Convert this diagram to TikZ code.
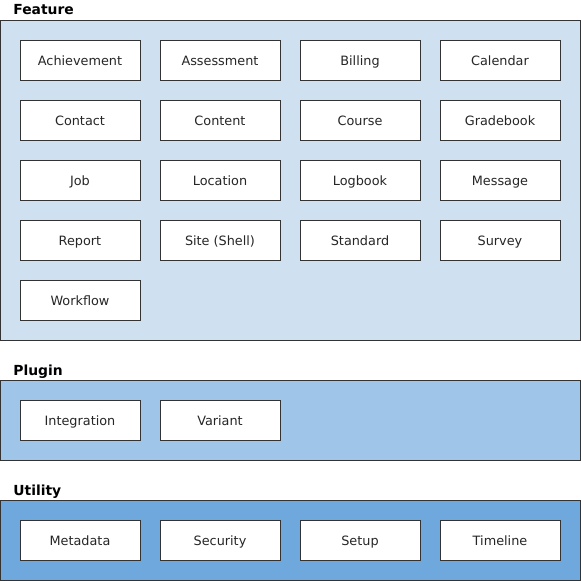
\documentclass[tikz,border=0pt]{standalone}
\usepackage{fontspec}
\setmainfont{DejaVu Sans}
\usepackage{xcolor}
\usetikzlibrary{positioning}

\definecolor{featurebg}{HTML}{CFE0F1}
\definecolor{pluginbg}{HTML}{9FC5E8}
\definecolor{utilitybg}{HTML}{6FA8DC}
\definecolor{edgegray}{HTML}{333333}

\begin{document}
\begin{tikzpicture}[
    x=0.02cm, y=-0.02cm,
    layer/.style={rectangle, draw=edgegray, line width=0.5pt, anchor=north west, inner sep=0pt},
    module/.style={rectangle, draw=edgegray, fill=white, line width=0.5pt, minimum width=2.4cm, minimum height=0.8cm, inner sep=0pt, text height=6.8pt, text depth=0pt, font=\fontsize{7.3}{9}\selectfont, text=black!85},
    title/.style={anchor=base west, inner sep=0pt, font=\fontsize{7.9}{9}\selectfont\bfseries}
]
\useasboundingbox (0,0) rectangle (581,581);

% Schichten
\node[layer, fill=featurebg, minimum width=11.6cm, minimum height=6.4cm] (feature) at (0,20) {};
\node[layer, fill=pluginbg, minimum width=11.6cm, minimum height=1.6cm] (plugin) at (0,380) {};
\node[layer, fill=utilitybg, minimum width=11.6cm, minimum height=1.6cm] (utility) at (0,500) {};

% Titel
\node[title] (featuretitle) at (13,15) {Feature};
\node[title] (plugintitle) at (13,375) {Plugin};
\node[title] (utilitytitle) at (13,495) {Utility};

% Feature-Module
\node[module] (achievement) at (80,60) {Achievement};
\node[module] (assessment) at (220,60) {Assessment};
\node[module] (billing) at (360,60) {Billing};
\node[module] (calendar) at (500,60) {Calendar};

\node[module] (contact) at (80,120) {Contact};
\node[module] (content) at (220,120) {Content};
\node[module] (course) at (360,120) {Course};
\node[module] (gradebook) at (500,120) {Gradebook};

\node[module] (job) at (80,180) {Job};
\node[module] (location) at (220,180) {Location};
\node[module] (logbook) at (360,180) {Logbook};
\node[module] (message) at (500,180) {Message};

\node[module] (report) at (80,240) {Report};
\node[module] (site) at (220,240) {Site (Shell)};
\node[module] (standard) at (360,240) {Standard};
\node[module] (survey) at (500,240) {Survey};

\node[module] (workflow) at (80,300) {Workflow};

% Plugin-Module
\node[module] (integration) at (80,420) {Integration};
\node[module] (variant) at (220,420) {Variant};

% Utility-Module
\node[module] (metadata) at (80,540) {Metadata};
\node[module] (security) at (220,540) {Security};
\node[module] (setup) at (360,540) {Setup};
\node[module] (timeline) at (500,540) {Timeline};

\end{tikzpicture}
\end{document}
